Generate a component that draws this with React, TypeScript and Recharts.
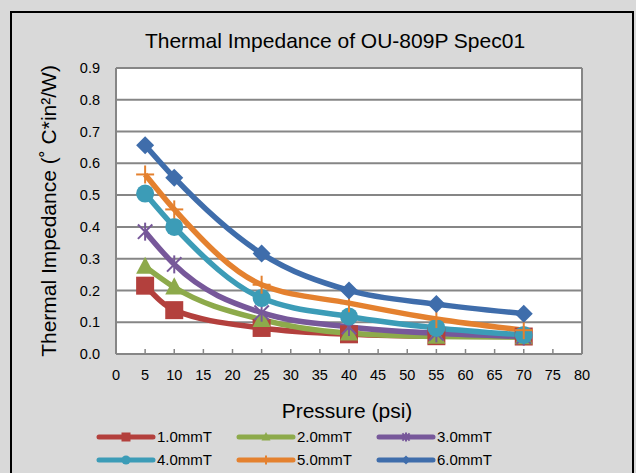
import React from 'react';
import { LineChart, Line, XAxis, YAxis, CartesianGrid, ReferenceLine } from 'recharts';

const pressure = [5, 10, 25, 40, 55, 70];
const t10 = [0.215, 0.138, 0.082, 0.062, 0.056, 0.055];
const t20 = [0.275, 0.21, 0.108, 0.065, 0.055, 0.053];
const t30 = [0.385, 0.282, 0.13, 0.085, 0.065, 0.055];
const t40 = [0.505, 0.4, 0.176, 0.118, 0.082, 0.06];
const t50 = [0.565, 0.455, 0.218, 0.16, 0.11, 0.075];
const t60 = [0.657, 0.555, 0.316, 0.2, 0.157, 0.127];

const xTicks = [0, 5, 10, 15, 20, 25, 30, 35, 40, 45, 50, 55, 60, 65, 70, 75, 80];
const yTicks = [0, 0.1, 0.2, 0.3, 0.4, 0.5, 0.6, 0.7, 0.8, 0.9];

type Shape = 'square' | 'triangle' | 'star' | 'circle' | 'plus' | 'diamond';

const series: { key: string; name: string; color: string; shape: Shape; values: number[] }[] = [
  { key: 't10', name: '1.0mmT', color: '#B3403D', shape: 'square', values: t10 },
  { key: 't20', name: '2.0mmT', color: '#8DAA4B', shape: 'triangle', values: t20 },
  { key: 't30', name: '3.0mmT', color: '#77589A', shape: 'star', values: t30 },
  { key: 't40', name: '4.0mmT', color: '#3C9CB7', shape: 'circle', values: t40 },
  { key: 't50', name: '5.0mmT', color: '#E4812F', shape: 'plus', values: t50 },
  { key: 't60', name: '6.0mmT', color: '#3F6DAB', shape: 'diamond', values: t60 },
];

const data = pressure.map((p, i) => {
  const row: Record<string, number> = { p };
  series.forEach((s) => (row[s.key] = s.values[i]));
  return row;
});

const FONT = '"Liberation Sans", Arial, sans-serif';

function Marker({ cx, cy, shape, color, size }: { cx: number; cy: number; shape: Shape; color: string; size: number }) {
  const h = size / 2;
  switch (shape) {
    case 'square':
      return <rect x={cx - h} y={cy - h} width={size} height={size} fill={color} />;
    case 'triangle':
      return <polygon points={`${cx},${cy - h * 1.1} ${cx + h},${cy + h * 0.8} ${cx - h},${cy + h * 0.8}`} fill={color} />;
    case 'circle':
      return <circle cx={cx} cy={cy} r={h} fill={color} />;
    case 'diamond':
      return <polygon points={`${cx},${cy - h} ${cx + h},${cy} ${cx},${cy + h} ${cx - h},${cy}`} fill={color} />;
    case 'plus':
      return (
        <g stroke={color} strokeWidth={2}>
          <line x1={cx - h} y1={cy} x2={cx + h} y2={cy} />
          <line x1={cx} y1={cy - h} x2={cx} y2={cy + h} />
        </g>
      );
    case 'star':
      return (
        <g stroke={color} strokeWidth={2}>
          <line x1={cx - h * 0.8} y1={cy - h * 0.8} x2={cx + h * 0.8} y2={cy + h * 0.8} />
          <line x1={cx - h * 0.8} y1={cy + h * 0.8} x2={cx + h * 0.8} y2={cy - h * 0.8} />
          <line x1={cx} y1={cy - h} x2={cx} y2={cy + h} />
        </g>
      );
  }
  return null;
}

function XTick(props: any) {
  const { x, y, payload } = props;
  return (
    <g>
      <line x1={x} y1={y - 5} x2={x} y2={y} stroke="#868686" strokeWidth={1.5} />
      <text x={x} y={y + 21} textAnchor="middle" dominantBaseline="central" fontSize={14.5} fill="#000" fontFamily={FONT}>
        {payload.value}
      </text>
    </g>
  );
}

function Legend() {
  return (
    <div style={{ position: 'absolute', left: 96, top: 426, width: 480, display: 'grid', gridTemplateColumns: '140px 140px 140px', rowGap: 2 }}>
      {series.map((s) => (
        <div key={s.key} style={{ display: 'flex', alignItems: 'center', height: 21 }}>
          <svg width={60} height={20}>
            <line x1={3} y1={10} x2={57} y2={10} stroke={s.color} strokeWidth={5} strokeLinecap="round" />
            <Marker cx={30} cy={10} shape={s.shape} color={s.color} size={9} />
          </svg>
          <span style={{ fontSize: 15, fontFamily: FONT, color: '#000', marginLeft: 1 }}>{s.name}</span>
        </div>
      ))}
    </div>
  );
}

export default function App() {
  return (
    <div style={{ position: 'absolute', left: 0, top: 0, width: 636, height: 473, background: '#D9D9D9', overflow: 'hidden' }}>
      <div
        style={{
          position: 'absolute',
          left: 10,
          top: 11,
          width: 620,
          height: 480,
          borderLeft: '2px solid #000',
          borderTop: '2px solid #000',
          borderRight: '2px solid #000',
        }}
      />
      <div style={{ position: 'absolute', left: 0, top: 29, width: 670, textAlign: 'center', fontSize: 21, fontFamily: FONT, color: '#000' }}>
        Thermal Impedance of OU-809P Spec01
      </div>
      <LineChart width={636} height={473} data={data} margin={{ top: 68, right: 54, left: 76, bottom: 89 }} style={{ position: 'absolute', left: 0, top: 0 }}>
        <CartesianGrid vertical={false} fill="#FFFFFF" stroke="#868686" strokeWidth={2} horizontalValues={yTicks} />
        <ReferenceLine x={80} stroke="#868686" strokeWidth={2} />
        <XAxis
          type="number"
          dataKey="p"
          domain={[0, 80]}
          ticks={xTicks}
          interval={0}
          height={30}
          tickSize={0}
          tickMargin={0}
          tickLine={false}
          axisLine={{ stroke: '#868686', strokeWidth: 2 }}
          tick={<XTick />}
          label={{
            content: (p: any) => (
              <text x={p.viewBox.x + p.viewBox.width / 2 - 2} y={p.viewBox.y + 56} textAnchor="middle" dominantBaseline="central" fontSize={21} fontFamily={FONT} fill="#000">
                Pressure (psi)
              </text>
            ),
          }}
        />
        <YAxis
          type="number"
          domain={[0, 0.9]}
          ticks={yTicks}
          interval={0}
          width={40}
          tickSize={0}
          tickMargin={16}
          tickLine={false}
          axisLine={{ stroke: '#868686', strokeWidth: 2 }}
          tickFormatter={(v: number) => v.toFixed(1)}
          tick={{ fontSize: 14.5, fill: '#000', fontFamily: FONT }}
          label={{
            content: (p: any) => {
              const cx = 48;
              const cy = p.viewBox.y + p.viewBox.height / 2;
              return (
                <text x={cx} y={cy} transform={`rotate(-90 ${cx} ${cy})`} textAnchor="middle" dominantBaseline="central" fontSize={21} fontFamily={FONT} fill="#000">
                  Thermal Impedance (˚ C*in²/W)
                </text>
              );
            },
          }}
        />
        {series.map((s) => (
          <Line
            key={s.key}
            type="monotone"
            dataKey={s.key}
            name={s.name}
            stroke={s.color}
            strokeWidth={5.5}
            isAnimationActive={false}
            dot={(d: any) => <Marker key={`${s.key}-${d.index}`} cx={d.cx} cy={d.cy} shape={s.shape} color={s.color} size={18} />}
            activeDot={false}
          />
        ))}
      </LineChart>
      <Legend />
    </div>
  );
}
